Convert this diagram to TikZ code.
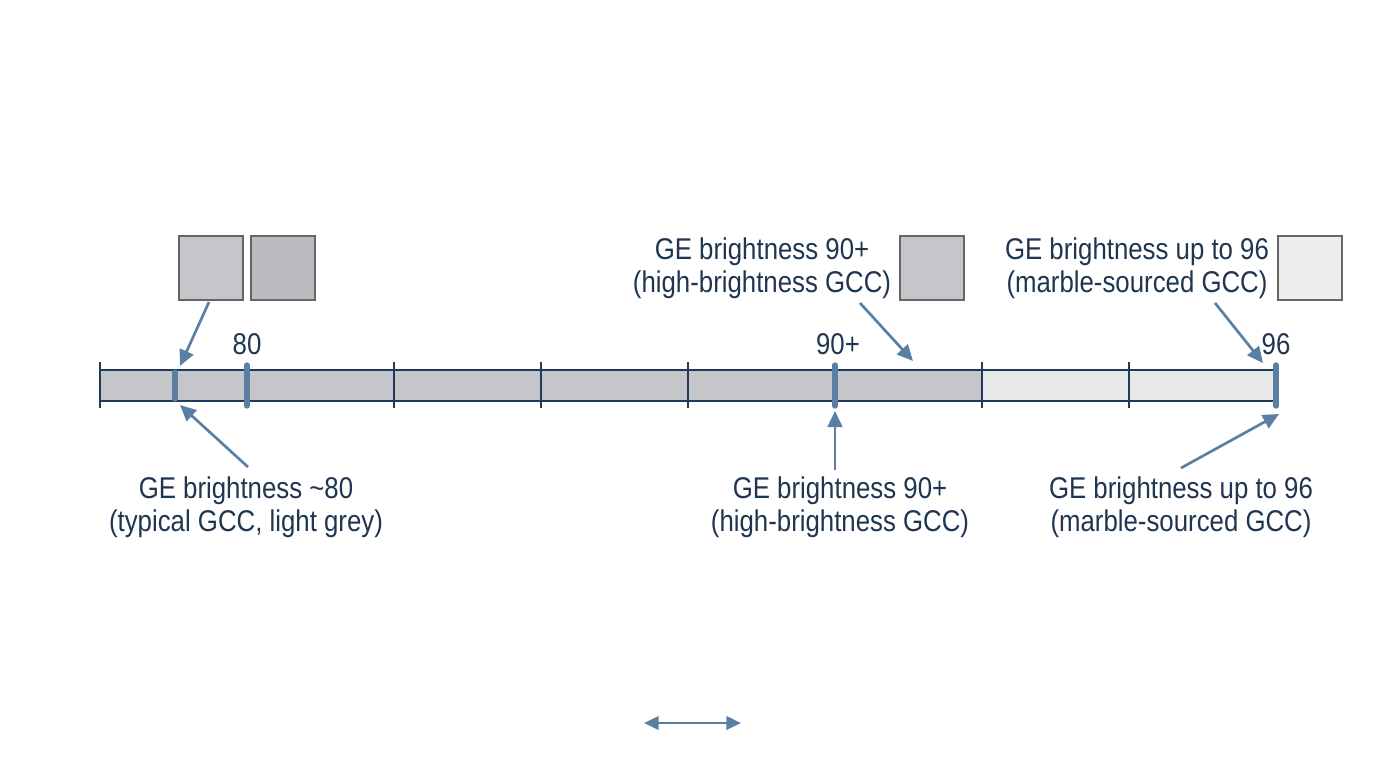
\documentclass[tikz,border=0pt]{standalone}
\usepackage{fontspec}
\setmainfont{Liberation Sans}[FakeStretch=0.86]
\usetikzlibrary{arrows.meta}
\definecolor{txt}{HTML}{1F3550}
\definecolor{arr}{HTML}{5A7FA3}
\definecolor{barA}{HTML}{C4C6C9}
\definecolor{barB}{HTML}{E7E8E9}
\definecolor{tickc}{HTML}{1F3A5A}
\begin{document}
\begin{tikzpicture}[x=0.75pt,y=-0.75pt,
  lbl/.style={text=txt,font=\fontsize{22.5}{25}\selectfont,inner sep=0pt,align=center},
  sq/.style={draw=gray!80!black,line width=0.8pt,minimum size=48pt,inner sep=0pt},
  ar/.style={draw=arr,line width=2pt,-{Triangle[length=12pt,width=11pt]}},
  tk/.style={draw=tickc,line width=1pt},
  mk/.style={draw=arr,line width=4pt,line cap=round}]
\useasboundingbox (0,0) rectangle (1376,768);
\fill[barA] (100,370) rectangle (982,401);
\fill[barB] (982,370) rectangle (1276,401);
\draw[tickc,line width=1pt] (100,370) -- (1276,370) (100,401) -- (1276,401);
\foreach \x in {100,394,541,688,982,1129}{\draw[tk] (\x,362) -- (\x,408);}
\draw[mk] (175,372) -- (175,399);
\draw[mk] (247,365) -- (247,406);
\draw[mk] (835,365) -- (835,406);
\draw[mk] (1276,365) -- (1276,406);
\node[lbl] at (247,344) {80};
\node[lbl] at (838,344) {90+};
\node[lbl] at (1276,344) {96};
\node[sq,fill=barA] (s1) at (211,268) {};
\node[sq,fill=barA!95!black] (s2) at (283,268) {};
\node[sq,fill=barA] (s3) at (932,268) {};
\node[sq,fill=barB!80!white] (s4) at (1310,268) {};
\node[lbl] (t1) at (762,268) {GE brightness 90+\\(high-brightness GCC)};
\node[lbl] (t2) at (1137,268) {GE brightness up to 96\\(marble-sourced GCC)};
\node[lbl] (b1) at (246,507) {GE brightness \textasciitilde80\\(typical GCC, light grey)};
\node[lbl] (b2) at (840,507) {GE brightness 90+\\(high-brightness GCC)};
\node[lbl] (b3) at (1181,507) {GE brightness up to 96\\(marble-sourced GCC)};
\coordinate (a1) at (180,366);
\coordinate (a2) at (180,405);
\coordinate (a3) at (913,361);
\coordinate (a4) at (835,411);
\coordinate (a5) at (1263,363);
\coordinate (a6) at (1279,414);
\draw[ar] (209,302) -- (a1);
\draw[ar] (248,467) -- (a2);
\draw[ar] (860,303) -- (a3);
\draw[ar] (835,470) -- (a4);
\draw[ar] (1215,303) -- (a5);
\draw[ar] (1181,468) -- (a6);
\coordinate (d1) at (644,723);
\coordinate (d2) at (741,723);
\draw[draw=arr,line width=2pt,{Triangle[length=11pt,width=10pt]}-{Triangle[length=11pt,width=10pt]}] (d1) -- (d2);
\end{tikzpicture}
\end{document}
